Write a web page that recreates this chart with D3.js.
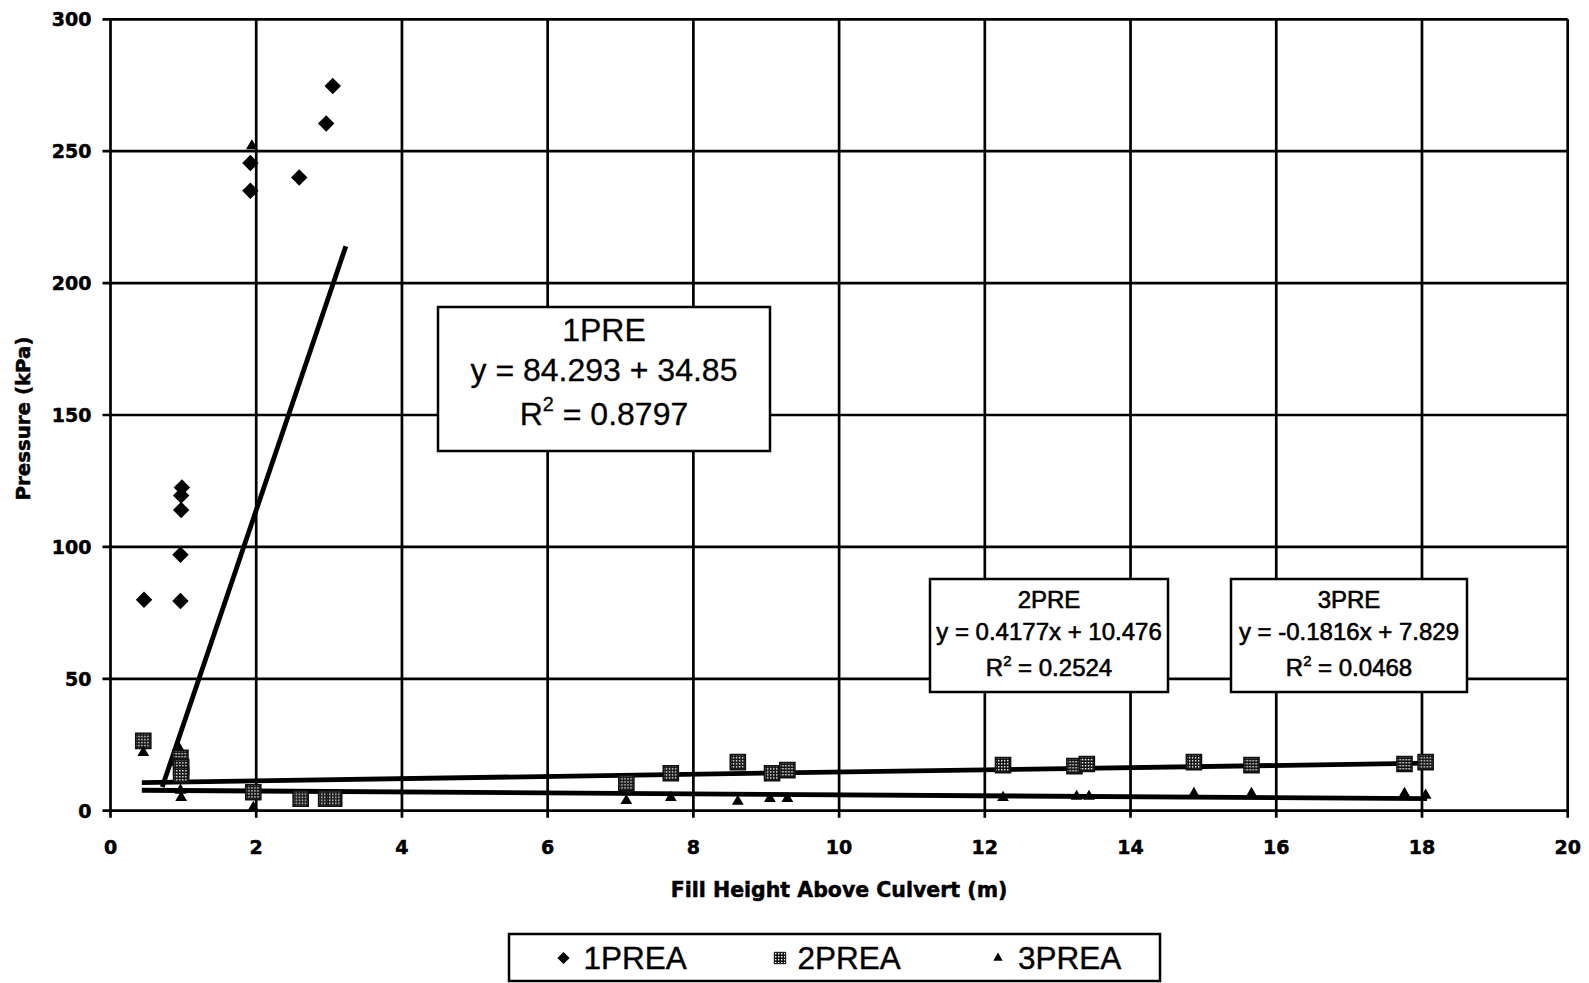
<!DOCTYPE html>
<html>
<head>
<meta charset="utf-8">
<script src="https://cdn.jsdelivr.net/npm/d3@7"></script>
<style>
  body { margin: 0; background: #fff; }
  svg { display: block; }
</style>
</head>
<body>
<div id="chart"></div>
<script>
// values
const xTicks = [0, 2, 4, 6, 8, 10, 12, 14, 16, 18, 20]
const yTicks = [0, 50, 100, 150, 200, 250, 300]

const prea1 = [
  [0.46, 80], [0.96, 79.5], [0.96, 97], [0.97, 114], [0.97, 119.5], [0.98, 122.5],
  [1.92, 245.5], [1.92, 235], [2.59, 240], [2.96, 260.5], [3.05, 274.7]
]
const prea2 = [
  [0.45, 26.5], [0.96, 20], [0.97, 16.5], [0.97, 13.5], [1.96, 7], [2.61, 4.6],
  [2.96, 4.6], [3.07, 4.6], [7.08, 10.4], [7.69, 14.2], [8.61, 18.4], [9.08, 14.2],
  [9.29, 15.4], [12.25, 17.3], [13.23, 16.9], [13.4, 17.7], [14.87, 18.4],
  [15.66, 17.3], [17.76, 17.7], [18.05, 18.4]
]
const prea3 = [
  [0.45, 22], [0.93, 24.2], [0.96, 7.7], [0.97, 5], [1.96, 1.2], [1.94, 252],
  [7.08, 3.8], [7.69, 5], [8.61, 3.5], [9.05, 4.6], [9.29, 4.6], [12.25, 5],
  [13.26, 5.4], [13.43, 5.4], [14.87, 6.5], [15.66, 6.5], [17.76, 6.5], [18.05, 5.8]
]

// trend lines
const trend1 = [[0.71, 9], [3.23, 214]]
const fit2 = { slope: 0.4177, icept: 10.476, from: 0.43, to: 18.07 }
const fit3 = { slope: -0.1816, icept: 7.829, from: 0.43, to: 18.07 }

const labels1 = ['1PRE', 'y = 84.293 + 34.85', '0.8797']
const labels2 = ['2PRE', 'y = 0.4177x + 10.476', '0.2524']
const labels3 = ['3PRE', 'y = -0.1816x + 7.829', '0.0468']
const legendNames = ['1PREA', '2PREA', '3PREA']

let margin = { top: 19.3, left: 110.5, right: 21.3, bottom: 172.3 }
let width = 1589 - margin.left - margin.right
let height = 983 - margin.top - margin.bottom

let root = d3
  .select('#chart')
  .append('svg')
  .attr('width', 1589)
  .attr('height', 983)

let defs = root.append('defs')
let pat = defs.append('pattern')
  .attr('id', 'dots')
  .attr('width', 3)
  .attr('height', 3)
  .attr('patternUnits', 'userSpaceOnUse')
pat.append('rect').attr('width', 3).attr('height', 3).attr('fill', '#111')
pat.append('rect').attr('x', 1).attr('y', 1).attr('width', 1.4).attr('height', 1.4).attr('fill', '#fff')

let svg = root.append('g')
  .attr('transform', 'translate(' + margin.left + ',' + margin.top + ')')

let x = d3.scaleLinear().domain([0, 20]).range([0, width])
let y = d3.scaleLinear().domain([0, 300]).range([height, 0])

// grid
svg.selectAll('.hgrid')
  .data(yTicks)
  .enter()
  .append('line')
  .attr('x1', -8)
  .attr('x2', width)
  .attr('y1', d => y(d))
  .attr('y2', d => y(d))
  .attr('stroke', '#000')
  .attr('stroke-width', 2.7)

svg.selectAll('.vgrid')
  .data(xTicks)
  .enter()
  .append('line')
  .attr('x1', d => x(d))
  .attr('x2', d => x(d))
  .attr('y1', 0)
  .attr('y2', height + 7)
  .attr('stroke', '#000')
  .attr('stroke-width', 2.7)

// tick labels
let axisFont = g => g
  .attr('font-family', 'DejaVu Sans')
  .attr('font-weight', 'bold')
  .attr('stroke', '#000')
  .attr('stroke-width', 0.5)

svg.selectAll('.ylab')
  .data(yTicks)
  .enter()
  .append('text')
  .attr('x', -19)
  .attr('y', d => y(d))
  .attr('dy', '0.36em')
  .attr('text-anchor', 'end')
  .attr('font-size', 19)
  .call(axisFont)
  .text(d => d)

svg.selectAll('.xlab')
  .data(xTicks)
  .enter()
  .append('text')
  .attr('x', d => x(d))
  .attr('y', height + 43)
  .attr('text-anchor', 'middle')
  .attr('font-size', 19)
  .call(axisFont)
  .text(d => d)

svg.append('text')
  .attr('x', width / 2)
  .attr('y', height + 86)
  .attr('text-anchor', 'middle')
  .attr('font-size', 20.5)
  .call(axisFont)
  .text('Fill Height Above Culvert (m)')

svg.append('text')
  .attr('transform', 'translate(' + (22.3 - margin.left + 7.5) + ',' + (418.5 - margin.top) + ') rotate(-90)')
  .attr('text-anchor', 'middle')
  .attr('font-size', 19.8)
  .call(axisFont)
  .text('Pressure (kPa)')

// trend lines
let line = d3.line().x(d => x(d[0])).y(d => y(d[1]))
function fitPts(f) {
  return [[f.from, f.icept + f.slope * f.from], [f.to, f.icept + f.slope * f.to]]
}
svg.selectAll('.trend')
  .data([trend1, fitPts(fit2), fitPts(fit3)])
  .enter()
  .append('path')
  .attr('d', line)
  .attr('fill', 'none')
  .attr('stroke', '#000')
  .attr('stroke-width', 4.8)

// markers
let diamond = d3.symbol().type(d3.symbolSquare).size(135)
let square = d3.symbol().type(d3.symbolSquare).size(230)
let tri = d3.symbol().type(d3.symbolTriangle).size(60)

svg.selectAll('.p2')
  .data(prea2)
  .enter()
  .append('path')
  .attr('d', square)
  .attr('transform', d => `translate(${x(d[0])},${y(d[1])})`)
  .attr('fill', 'url(#dots)')
  .attr('stroke', '#111')
  .attr('stroke-width', 1.5)

svg.selectAll('.p3')
  .data(prea3)
  .enter()
  .append('path')
  .attr('d', tri)
  .attr('transform', d => `translate(${x(d[0])},${y(d[1])})`)
  .attr('fill', '#000')

svg.selectAll('.p1')
  .data(prea1)
  .enter()
  .append('path')
  .attr('d', diamond)
  .attr('transform', d => `translate(${x(d[0])},${y(d[1])}) rotate(45)`)
  .attr('fill', '#000')

// equation boxes
function eqBox(lines, bx, by, bw, bh, fs, rows, sw) {
  let g = root.append('g')
  g.append('rect')
    .attr('x', bx).attr('y', by).attr('width', bw).attr('height', bh)
    .attr('fill', '#fff').attr('stroke', '#000').attr('stroke-width', 2.5)
  let cx = bx + bw / 2
  let t = g.append('g')
    .attr('font-family', 'Liberation Sans, Arial, sans-serif')
    .attr('font-size', fs)
    .attr('text-anchor', 'middle')
    .attr('stroke', '#000')
    .attr('stroke-width', sw)
  t.append('text').attr('x', cx).attr('y', rows[0]).attr('dy', '0.36em').text(lines[0])
  t.append('text').attr('x', cx).attr('y', rows[1]).attr('dy', '0.36em').text(lines[1])
  let r = t.append('text').attr('x', cx).attr('y', rows[2]).attr('dy', '0.36em')
  r.append('tspan').text('R')
  r.append('tspan').attr('font-size', fs * 0.62).attr('dy', -fs * 0.42).text('2')
  r.append('tspan').attr('dy', fs * 0.42).text(' = ' + lines[2])
}

eqBox(labels1, 438, 307, 332, 144, 32, [329, 369, 413], 0.3)
eqBox(labels2, 930, 579, 238, 113, 24, [599, 631, 667], 0.6)
eqBox(labels3, 1231, 579, 236, 113, 24, [599, 631, 667], 0.6)

// legend
let leg = root.append('g')
leg.append('rect')
  .attr('x', 509).attr('y', 934).attr('width', 651).attr('height', 47)
  .attr('fill', '#fff').attr('stroke', '#000').attr('stroke-width', 2.5)

let legX = [563.5, 780, 998]
let legSym = [
  { d: d3.symbol().type(d3.symbolSquare).size(75)(), fill: '#000', rot: 45 },
  { d: d3.symbol().type(d3.symbolSquare).size(130)(), fill: 'url(#dots)', rot: 0 },
  { d: d3.symbol().type(d3.symbolTriangle).size(38)(), fill: '#000', rot: 0 }
]
legendNames.forEach((name, i) => {
  leg.append('path')
    .attr('d', legSym[i].d)
    .attr('transform', `translate(${legX[i]},958) rotate(${legSym[i].rot})`)
    .attr('fill', legSym[i].fill)
    .attr('stroke', i === 1 ? '#111' : 'none')
  leg.append('text')
    .attr('x', legX[i] + (i === 1 ? 17.5 : 20))
    .attr('y', 958)
    .attr('dy', '0.36em')
    .attr('font-family', 'Liberation Sans, Arial, sans-serif')
    .attr('font-size', 31.5)
    .attr('stroke', '#000')
    .attr('stroke-width', 0.4)
    .text(name)
})
</script>
</body>
</html>
